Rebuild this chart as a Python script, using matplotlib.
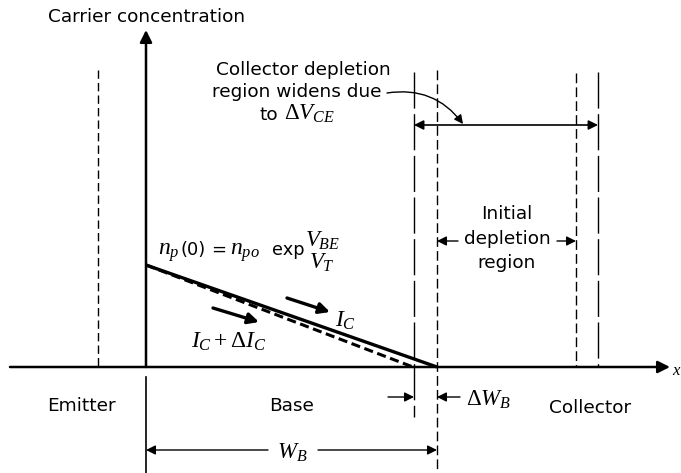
import matplotlib
matplotlib.use("Agg")
import matplotlib.pyplot as plt
from matplotlib.patches import FancyArrowPatch

plt.rcParams['font.family'] = ['DejaVu Sans']
plt.rcParams['mathtext.fontset'] = 'custom'
plt.rcParams['mathtext.it'] = 'Liberation Serif:italic'
plt.rcParams['mathtext.rm'] = 'Liberation Serif'
plt.rcParams['mathtext.sf'] = 'DejaVu Sans'

# ---- data (diagram geometry in pixel-like units) ----
region_names = ["Emitter", "Base", "Collector"]
boundary_x = [98, 146, 414, 437, 576, 598]   # emitter edge, base start, widened left, initial left, initial right, widened right
axis_y = 367
profile_x_initial = [146, 437]
profile_y_initial = [265, 367]
profile_x_widened = [146, 413]
profile_y_widened = [265, 367]

FS = 13.3    # sans text size
FM = 16.5    # math size

fig = plt.figure(figsize=(6.81, 4.73), dpi=100)
ax = fig.add_axes([0, 0, 1, 1])
ax.set_xlim(0, 681)
ax.set_ylim(473, 0)
ax.axis('off')

k = 'black'
ap = dict(arrowstyle='-|>', color=k, lw=1.2, mutation_scale=14, shrinkA=0, shrinkB=0)

# axes
ax.annotate('', xy=(670, axis_y), xytext=(10, axis_y),
            arrowprops=dict(ap, lw=1.8, mutation_scale=18))
ax.annotate('', xy=(boundary_x[1], 30), xytext=(boundary_x[1], axis_y),
            arrowprops=dict(ap, lw=1.8, mutation_scale=18))
ax.plot([boundary_x[1], boundary_x[1]], [377, 473], color=k, lw=1.2)
ax.text(672, 370, r'$x$', fontsize=12, ha='left', va='center')
ax.text(147, 17, 'Carrier concentration', fontsize=FS, ha='center', va='center')

# boundaries
ax.plot([boundary_x[0]] * 2, [70, axis_y], color=k, lw=1.0, dashes=(6, 3))
ax.plot([boundary_x[2]] * 2, [72, 417], color=k, lw=1.0, dashes=(26, 4))
ax.plot([boundary_x[3]] * 2, [70, 473], color=k, lw=1.0, dashes=(7, 3))
ax.plot([boundary_x[4]] * 2, [73, axis_y], color=k, lw=1.0, dashes=(7, 3))
ax.plot([boundary_x[5]] * 2, [72, axis_y], color=k, lw=1.0, dashes=(26, 4))

# profiles
ax.plot(profile_x_initial, profile_y_initial, color=k, lw=2.4, solid_capstyle='butt')
ax.plot(profile_x_widened, profile_y_widened, color=k, lw=2.2, dashes=(3, 1.5))

# equation  n_p(0) = n_po exp V_BE / V_T
ax.text(158, 255, r'$n_p$', fontsize=FM + 0.5, ha='left', va='baseline')
ax.text(181, 255, '(0)', fontsize=FS - 0.3, ha='left', va='baseline')
ax.text(211, 255, '=', fontsize=FS - 0.3, ha='left', va='baseline')
ax.text(230, 255, r'$n_{po}$', fontsize=FM + 0.5, ha='left', va='baseline')
ax.text(272, 255, 'exp', fontsize=FS - 0.5, ha='left', va='baseline')
ax.text(323, 247, r'$V_{BE}$', fontsize=FM, ha='center', va='baseline')
ax.text(322, 269, r'$V_T$', fontsize=FM, ha='center', va='baseline')

# current arrows
ax.annotate('', xy=(330, 312), xytext=(287, 298),
            arrowprops=dict(ap, lw=2.4, mutation_scale=16))
ax.text(335, 320, r'$I_C$', fontsize=FM + 0.5, ha='left', va='center')
ax.annotate('', xy=(259, 322), xytext=(213, 308),
            arrowprops=dict(ap, lw=2.4, mutation_scale=16))
ax.text(229, 341, r'$I_C + \Delta I_C$', fontsize=FM + 0.5, ha='center', va='center')

# collector depletion text + curved arrow
ax.text(303, 75, 'Collector depletion', fontsize=FS, ha='center', va='baseline')
ax.text(297, 97, 'region widens due', fontsize=FS, ha='center', va='baseline')
ax.text(260, 120, 'to', fontsize=FS, ha='left', va='baseline')
ax.text(284, 120, r'$\Delta V_{CE}$', fontsize=FM, ha='left', va='baseline')
ax.add_patch(FancyArrowPatch((387, 93), (463, 124), connectionstyle='arc3,rad=-0.3',
                             arrowstyle='-|>', mutation_scale=13, color=k, lw=1.0,
                             shrinkA=0, shrinkB=0))
ax.annotate('', xy=(boundary_x[2], 125), xytext=(boundary_x[5], 125),
            arrowprops=dict(arrowstyle='<|-|>', color=k, lw=1.2, mutation_scale=14,
                            shrinkA=0, shrinkB=0))

# initial depletion region
ax.text(507, 214, 'Initial', fontsize=FS, ha='center', va='center')
ax.text(507, 239, 'depletion', fontsize=FS, ha='center', va='center')
ax.text(507, 263, 'region', fontsize=FS, ha='center', va='center')
ax.annotate('', xy=(boundary_x[3], 241), xytext=(458, 241), arrowprops=dict(ap, lw=1.0))
ax.annotate('', xy=(boundary_x[4], 241), xytext=(557, 241), arrowprops=dict(ap, lw=1.0))

# region labels
ax.text(81, 406, region_names[0], fontsize=FS, ha='center', va='center')
ax.text(292, 406, region_names[1], fontsize=FS, ha='center', va='center')
ax.text(590, 408, region_names[2], fontsize=FS, ha='center', va='center')

# delta W_B
ax.annotate('', xy=(boundary_x[2], 397), xytext=(388, 397), arrowprops=dict(ap, lw=1.0))
ax.annotate('', xy=(boundary_x[3], 397), xytext=(460, 397), arrowprops=dict(ap, lw=1.0))
ax.text(466, 399, r'$\Delta W_B$', fontsize=FM, ha='left', va='center')

# W_B
ax.annotate('', xy=(boundary_x[1], 450), xytext=(268, 450), arrowprops=dict(ap, lw=1.0))
ax.annotate('', xy=(boundary_x[3], 450), xytext=(318, 450), arrowprops=dict(ap, lw=1.0))
ax.text(292, 452, r'$W_B$', fontsize=FM, ha='center', va='center')

fig.savefig('out.png', dpi=100, facecolor='white')
